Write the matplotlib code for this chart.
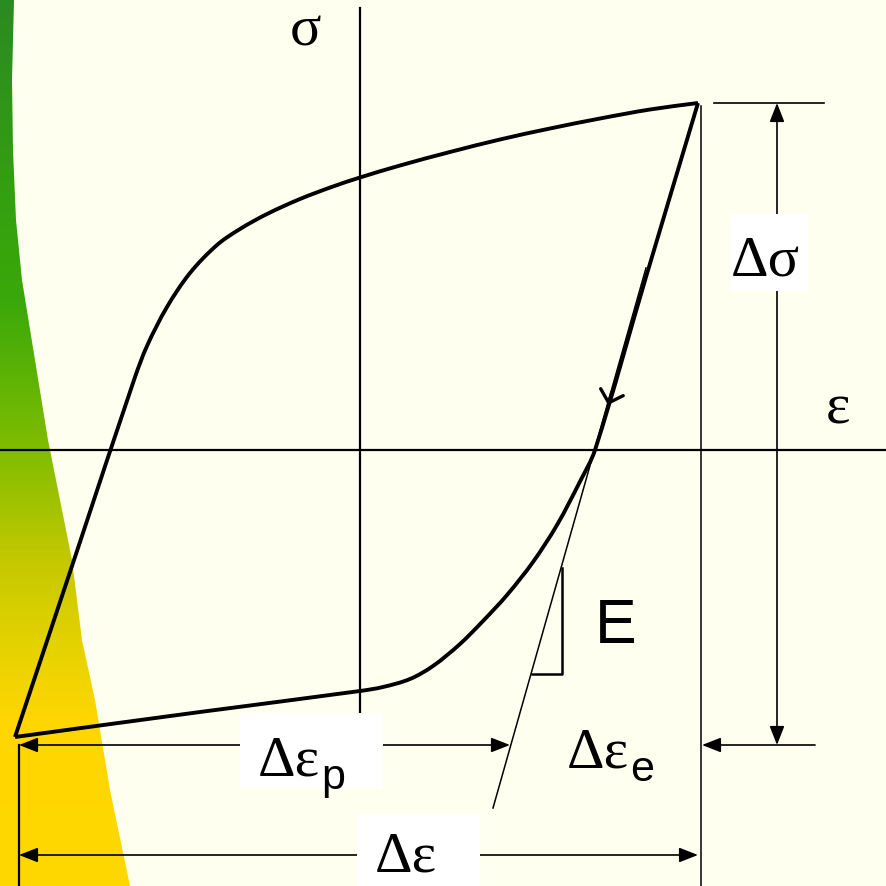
import matplotlib
matplotlib.use("Agg")
import matplotlib.pyplot as plt
import numpy as np
from matplotlib.colors import to_rgb
from matplotlib.patches import Polygon, Rectangle, PathPatch
from matplotlib.path import Path

# stabilised hysteresis loop, strain / stress in drawing units (origin at axis crossing)
load_eps = [-345, -280, -226, -213, -193, -170, -143, -120, -93, -60, -27, 0, 40,
            90, 140, 190, 240, 290, 338]
load_sig = [-287, -92, 70, 104, 143, 177, 205, 221, 236, 251, 263.5, 272.5, 284.5,
            298, 310.5, 321.5, 331.5, 340.5, 347]
unload_eps = [338, 286, 235, 220, 197, 173, 147, 123, 100, 73, 50, 23, 0, -160, -345]
unload_sig = [347, 173, 0, -31.5, -75, -112, -145, -171, -194, -216, -229, -237, -241,
              -262, -287]

# elastic modulus tangent and slope triangle
tangent_eps = [286, 133]
tangent_sig = [182, -358]
tri_eps = [172, 202, 202]
tri_sig = [-224, -224, -118]

eps_min, eps_max = -345, 338
sig_min, sig_max = -287, 347
eps_p_end = 150

BG = "#fffff0"
band_edge_x = [-346, -348, -347, -344, -338, -325, -312, -300, -288, -278, -265, -250, -230]
band_edge_y = [450, 370, 300, 230, 170, 90, 10, -50, -110, -190, -250, -340, -436]
band_stop_y = [-436, -270, -190, -110, 0, 150, 250, 450]
band_stop_c = ["#ffd800", "#ffd600", "#e2d200", "#c4c800", "#80bd00", "#3aa80a",
               "#35a010", "#2b8a22"]


def smooth_path(xs, ys):
    """Cubic Bezier path running through every point (tangent from neighbours)."""
    p = np.column_stack([xs, ys]).astype(float)
    n = len(p)
    verts, codes = [p[0]], [Path.MOVETO]
    for i in range(n - 1):
        p0, p1, p2, p3 = p[max(i - 1, 0)], p[i], p[i + 1], p[min(i + 2, n - 1)]
        d = np.hypot(*(p2 - p1))
        t1 = p2 - p0
        t2 = p3 - p1
        t1 = t1 / np.hypot(*t1)
        t2 = t2 / np.hypot(*t2)
        verts += [p1 + t1 * d / 3, p2 - t2 * d / 3, p2]
        codes += [Path.CURVE4] * 3
    return Path(verts, codes)


fig = plt.figure(figsize=(8.87, 8.86), dpi=100)
fig.patch.set_facecolor(BG)
ax = fig.add_axes([0, 0, 1, 1])
ax.set_facecolor(BG)
ax.set_xlim(-360, 527)
ax.set_ylim(-436, 450)
ax.axis("off")

# green to yellow band on the left edge
ys = np.linspace(-436, 450, 400)
cols = np.array([to_rgb(c) for c in band_stop_c])
grad = np.stack([np.interp(ys, band_stop_y, cols[:, k]) for k in range(3)], axis=-1)
grad = grad[::-1][:, None, :]
im = ax.imshow(grad, extent=[-360, -200, -436, 450], aspect="auto", zorder=0)
band = Polygon(list(zip([-360] + band_edge_x + [-360], [450] + band_edge_y + [-436])),
               closed=True, facecolor="none", edgecolor="none")
ax.add_patch(band)
im.set_clip_path(band)

# axes
ax.plot([-360, 527], [0, 0], color="k", lw=1.6, zorder=2)
ax.plot([0, 0], [442, -262], color="k", lw=1.6, zorder=2)

# loop
for xs, ys_ in [(load_eps, load_sig), (unload_eps, unload_sig)]:
    ax.add_patch(PathPatch(smooth_path(xs, ys_), facecolor="none", edgecolor="k",
                           lw=2.8, joinstyle="round", capstyle="butt", zorder=4))
ax.annotate("", xy=(248, 45), xytext=(252, 58),
            arrowprops=dict(arrowstyle="->,head_length=0.8,head_width=0.85",
                            color="k", lw=2.4, shrinkA=0, shrinkB=0), zorder=5)

ax.plot(tangent_eps, tangent_sig, color="k", lw=1.1, zorder=3)
ax.plot(tri_eps, tri_sig, color="k", lw=1.8, zorder=3)

# extension lines
ax.plot([eps_max + 3, eps_max + 3], [sig_max - 3, -436], color="k", lw=1.1, zorder=3)
ax.plot([eps_max + 16, eps_max + 126], [sig_max, sig_max], color="k", lw=1.2, zorder=3)
ax.plot([eps_min + 4, eps_min + 4], [sig_min - 8, -436], color="k", lw=1.6, zorder=3)

arrow2 = dict(arrowstyle="<|-|>,head_length=1.15,head_width=0.45", color="k",
              lw=1.2, shrinkA=0, shrinkB=0, mutation_scale=10)
arrow1 = dict(arrowstyle="-|>,head_length=1.15,head_width=0.45", color="k",
              lw=1.2, shrinkA=0, shrinkB=0, mutation_scale=10)
ax.annotate("", xy=(eps_min + 4, -295), xytext=(eps_p_end, -295), arrowprops=arrow2, zorder=3)
ax.annotate("", xy=(eps_min + 4, -405), xytext=(eps_max, -405), arrowprops=arrow2, zorder=3)
ax.annotate("", xy=(417, sig_max), xytext=(417, sig_min - 8), arrowprops=arrow2, zorder=3)
ax.annotate("", xy=(eps_max + 4, -295), xytext=(455, -295), arrowprops=arrow1, zorder=3)

# white label boxes
for x0, y0, w, h in [(370, 159, 78, 77), (-120, -338, 143, 75), (-3, -436, 123, 71)]:
    ax.add_patch(Rectangle((x0, y0), w, h, facecolor="white", edgecolor="none", zorder=6))

SERIF = ["Liberation Serif", "DejaVu Serif"]
SANS = ["Liberation Sans", "DejaVu Sans"]


def label(x, y, main, sub=None, size=42, sub_size=31, sub_drop=14):
    t = ax.text(x, y, main, family=SERIF, fontsize=size, ha="left", va="baseline", zorder=7)
    if sub:
        fig.canvas.draw()
        bb = t.get_window_extent().transformed(ax.transData.inverted())
        ax.text(bb.x1 + 1, y - sub_drop, sub, family=SANS, fontsize=sub_size,
                ha="left", va="baseline", zorder=7)


label(-70, 405, "σ")
label(466, 27, "ε")
label(371, 175, "Δσ")
label(-102, -325, "Δε", "p")
label(207, -317, "Δε", "e")
label(15, -422, "Δε")
ax.text(235, -193, "E", family=SANS, fontsize=45, ha="left", va="baseline", zorder=7)

fig.savefig("out.png", dpi=100, facecolor=BG)
